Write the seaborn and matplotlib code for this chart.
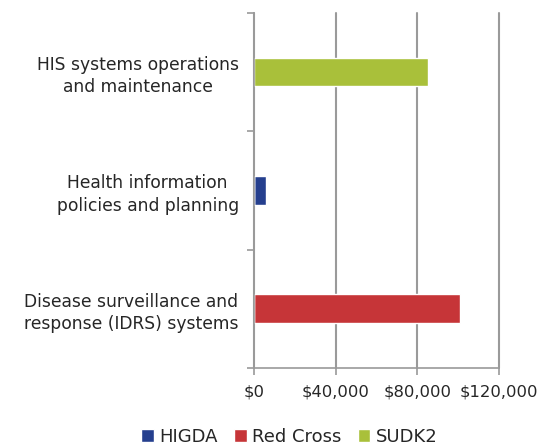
import pandas as pd
import seaborn as sns
import matplotlib.pyplot as plt
from matplotlib.ticker import FuncFormatter, FixedLocator

# chart values
categories = ["HIS systems operations\nand maintenance",
              "Health information\npolicies and planning",
              "Disease surveillance and\nresponse (IDRS) systems"]
higda = [0, 5700, 0]
red_cross = [0, 0, 101000]
sudk2 = [85000, 0, 0]
series = ["HIGDA", "Red Cross", "SUDK2"]
colors = ["#253f8e", "#c63538", "#a9c03a"]

df = pd.DataFrame({
    "category": categories * 3,
    "funder": [s for s in series for _ in categories],
    "amount": higda + red_cross + sudk2,
})

sns.set_style("white")
plt.rcParams["font.family"] = ["DejaVu Sans"]

fig = plt.figure(figsize=(5.45, 4.48), dpi=100)
ax = fig.add_axes([0.466, 0.179, 0.45, 0.792])

sns.barplot(data=df, y="category", x="amount", hue="funder", order=categories,
            hue_order=series, palette=colors, dodge=False, width=0.24,
            orient="h", ax=ax, saturation=1)

ax.set_xlim(0, 120000)
ax.set_ylim(2.5, -0.5)
ax.set_xticks([0, 40000, 80000, 120000])
ax.xaxis.set_major_formatter(FuncFormatter(lambda v, p: "${:,.0f}".format(v)))
ax.grid(axis="x", color="#9a9a9a", linewidth=1.5)
ax.set_axisbelow(True)
for g in ax.xaxis.get_gridlines():
    g.set_clip_on(False)
ax.set_xlabel("")
ax.set_ylabel("")

for s in ["top", "right"]:
    ax.spines[s].set_visible(False)
for s in ["left", "bottom"]:
    ax.spines[s].set_color("#9a9a9a")
    ax.spines[s].set_linewidth(1.2)

ax.yaxis.set_minor_locator(FixedLocator([-0.5, 0.5, 1.5, 2.5]))
ax.tick_params(axis="y", which="major", length=0, pad=11, labelsize=12.3, labelcolor="#262626")
ax.tick_params(axis="y", which="minor", length=5, color="#9a9a9a", width=1.2, left=True)
ax.tick_params(axis="x", length=5, color="#9a9a9a", width=1.2, bottom=True,
               labelsize=11.8, labelcolor="#262626", pad=7)
for t in ax.get_yticklabels():
    t.set_multialignment("center")
    t.set_linespacing(1.3)

sns.move_legend(ax, "lower center", bbox_to_anchor=(0.531, -0.032), bbox_transform=fig.transFigure,
                ncol=3, frameon=False, title=None, fontsize=13, handlelength=0.7,
                handleheight=0.7, handletextpad=0.3, columnspacing=0.9)
for t in ax.get_legend().get_texts():
    t.set_color("#262626")

fig.savefig("out.png", dpi=100)
